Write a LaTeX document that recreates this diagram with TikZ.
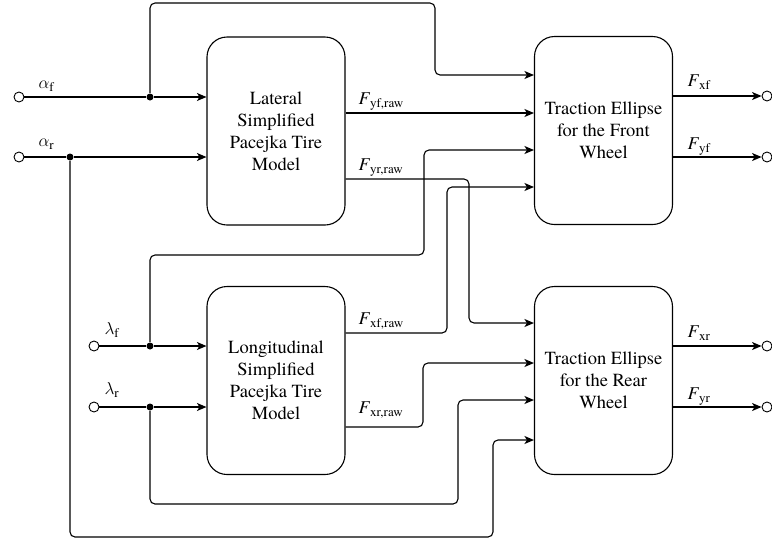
\documentclass[tikz,border=0pt]{standalone}
\usepackage{fontspec}
\setmainfont{texgyretermes-regular.otf}[BoldFont=texgyretermes-bold.otf,ItalicFont=texgyretermes-italic.otf,BoldItalicFont=texgyretermes-bolditalic.otf]
\usetikzlibrary{arrows.meta}
\newcommand\symb[2]{#1\raisebox{-0.45ex}{\fontsize{13}{13}\selectfont #2}}
\begin{document}
\begin{tikzpicture}[x=1pt,y=-1pt,
  line width=1.1pt,
  block/.style={draw,rounded corners=20pt,minimum width=138pt,minimum height=188pt,align=center,inner sep=0pt,font=\fontsize{18.5}{22}\selectfont},
  port/.style={circle,draw,fill=white,inner sep=0pt,minimum size=10pt,line width=0.9pt},
  jdot/.style={circle,fill=black,inner sep=0pt,minimum size=7pt},
  conn/.style={rounded corners=5pt,-{Stealth[length=9.5pt,width=8pt,inset=2.5pt]}},
  lbl/.style={anchor=base west,inner sep=0pt,font=\fontsize{18}{18}\selectfont}]
\useasboundingbox (0,0) rectangle (772,542);

% blocks
\node[block] (lat) at (276,131) {Lateral\\Simplified\\Pacejka Tire\\Model};
\node[block] (lon) at (276,380.5) {Longitudinal\\Simplified\\Pacejka Tire\\Model};
\node[block] (front) at (603.5,130.5) {Traction Ellipse\\for the Front\\Wheel};
\node[block] (rear) at (603.5,380.5) {Traction Ellipse\\for the Rear\\Wheel};

% input ports
\node[port] (af) at (19,97) {};
\node[port] (ar) at (19,157) {};
\node[port] (lf) at (94,346) {};
\node[port] (lr) at (94,407) {};

% output ports
\node[port] (oxf) at (767,96) {};
\node[port] (oyf) at (767,157) {};
\node[port] (oxr) at (767,346) {};
\node[port] (oyr) at (767,407) {};

% junctions
\node[jdot] (jaf) at (150,97) {};
\node[jdot] (jar) at (70,157) {};
\node[jdot] (jlf) at (150,346) {};
\node[jdot] (jlr) at (150,407) {};

% inputs
\draw (af) -- (jaf);
\draw[conn] (jaf) -- (lat.west |- jaf);
\draw (ar) -- (jar);
\draw[conn] (jar) -- (lat.west |- jar);
\draw (lf) -- (jlf);
\draw[conn] (jlf) -- (lon.west |- jlf);
\draw (lr) -- (jlr);
\draw[conn] (jlr) -- (lon.west |- jlr);

% branches to traction ellipses
\draw[conn] (jaf) -- (150,3) -- (435,3) -- (435,75) -- (front.west |- 0,75);
\draw[conn] (lat.east |- 0,113) -- (front.west |- 0,113);
\draw[conn] (jlf) -- (150,255) -- (424,255) -- (424,150) -- (front.west |- 0,150);
\draw[conn] (lon.east |- 0,333) -- (447,333) -- (447,187) -- (front.west |- 0,187);
\draw[conn] (lat.east |- 0,179) -- (469,179) -- (469,323) -- (rear.west |- 0,323);
\draw[conn] (lon.east |- 0,427) -- (423,427) -- (423,363) -- (rear.west |- 0,363);
\draw[conn] (jlr) -- (150,504) -- (458,504) -- (458,400) -- (rear.west |- 0,400);
\draw[conn] (jar) -- (70,537) -- (493,537) -- (493,440) -- (rear.west |- 0,440);

% outputs
\draw[conn] (front.east |- oxf) -- (oxf);
\draw[conn] (front.east |- oyf) -- (oyf);
\draw[conn] (rear.east |- oxr) -- (oxr);
\draw[conn] (rear.east |- oyr) -- (oyr);

% labels
\node[lbl] (laf) at (38,88) {\symb{$\alpha$}{f}};
\node[lbl] (lar) at (38,146) {\symb{$\alpha$}{r}};
\node[lbl] (llf) at (104,334) {\symb{$\lambda$}{f}};
\node[lbl] (llr) at (104,394) {\symb{$\lambda$}{r}};
\node[lbl] (lyfr) at (358,104) {\symb{\textit{F}}{yf,raw}};
\node[lbl] (lyrr) at (358,170) {\symb{\textit{F}}{yr,raw}};
\node[lbl] (lxfr) at (358,324) {\symb{\textit{F}}{xf,raw}};
\node[lbl] (lxrr) at (358,413) {\symb{\textit{F}}{xr,raw}};
\node[lbl] (lxf) at (687,86) {\symb{\textit{F}}{xf}};
\node[lbl] (lyf) at (687,149) {\symb{\textit{F}}{yf}};
\node[lbl] (lxr) at (687,337) {\symb{\textit{F}}{xr}};
\node[lbl] (lyr) at (687,399) {\symb{\textit{F}}{yr}};
\end{tikzpicture}
\end{document}
